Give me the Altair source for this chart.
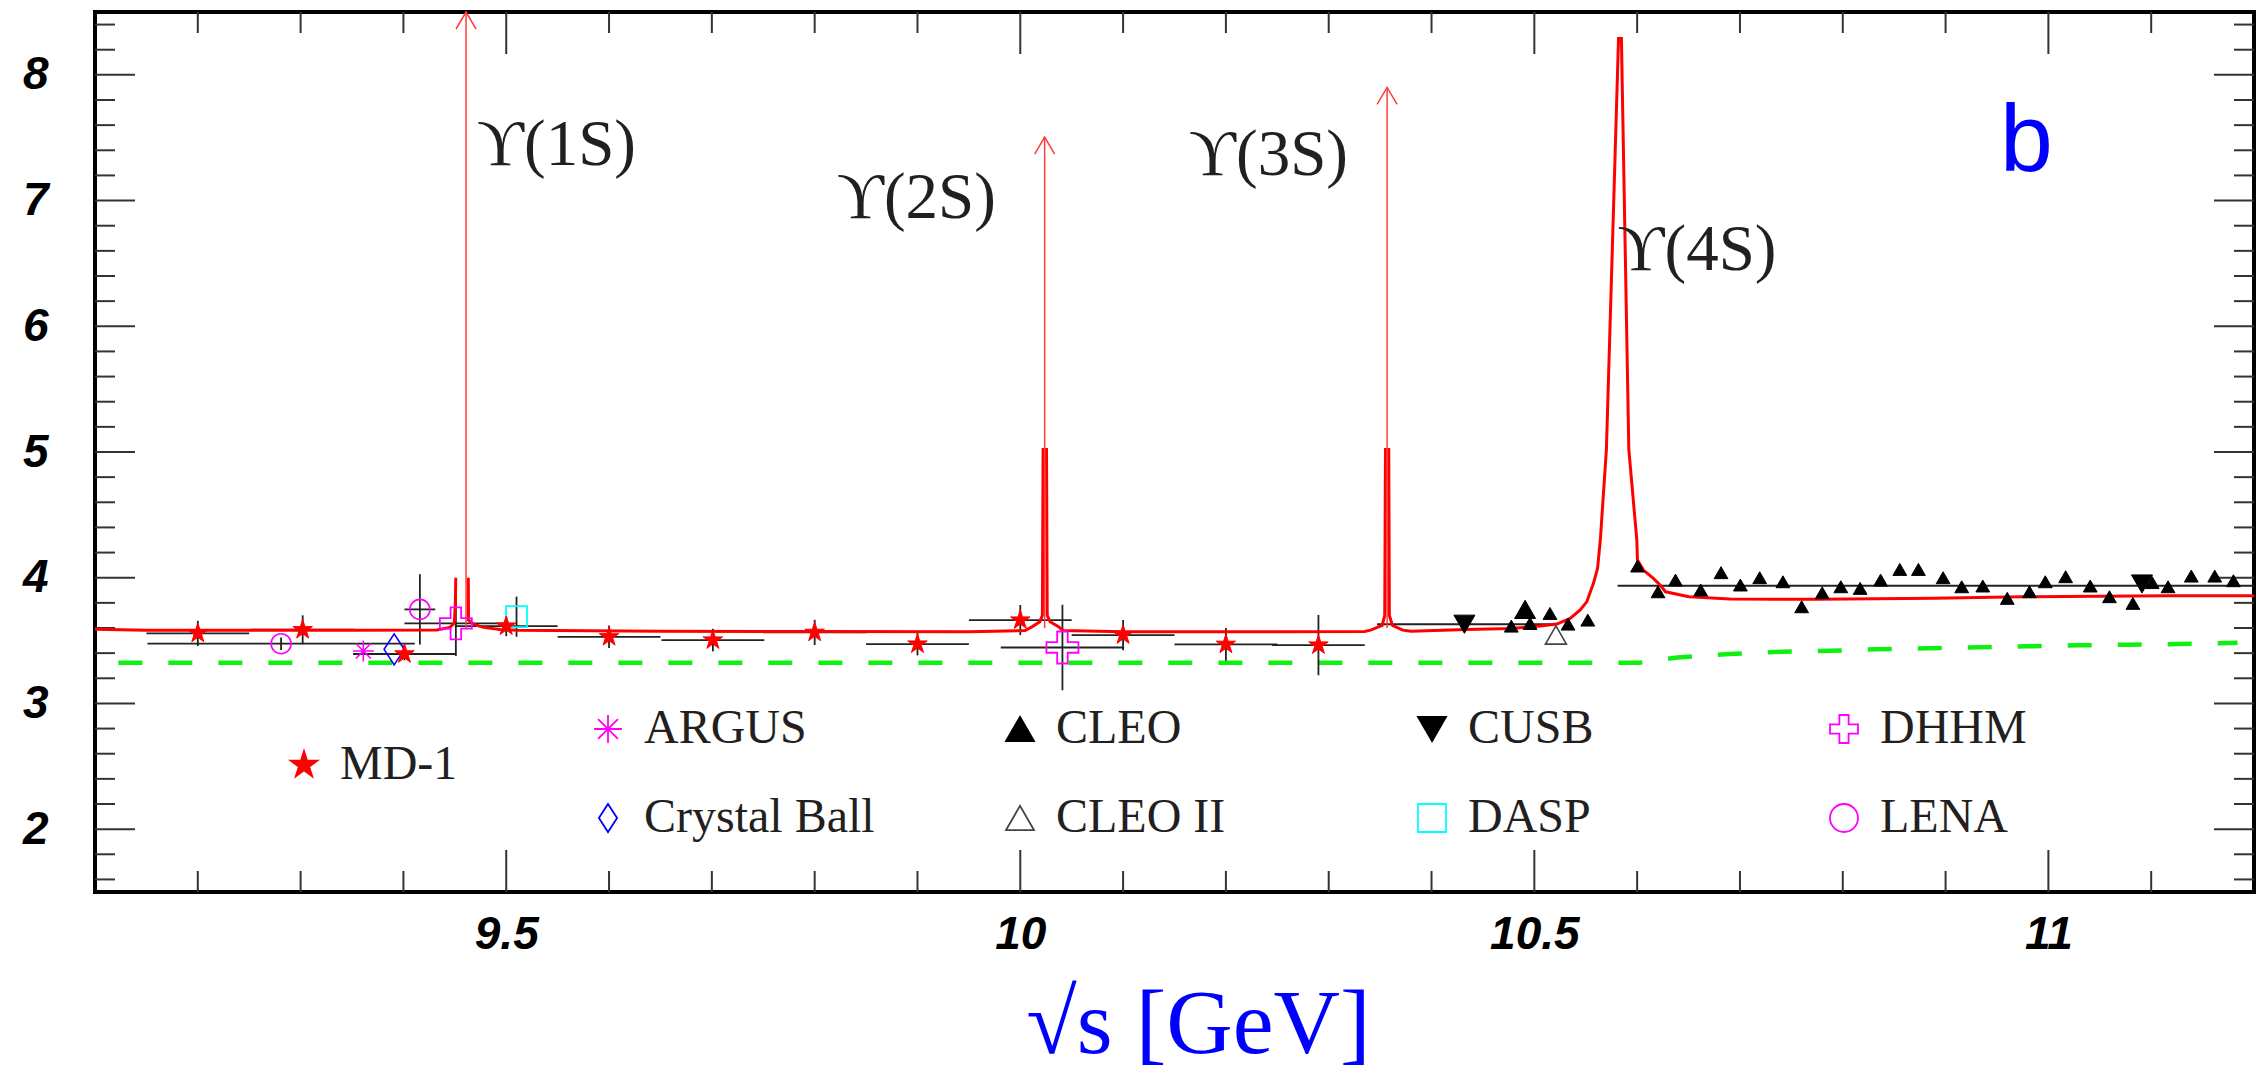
import altair as alt
import pandas as pd

# ------------------------------------------------------------------ data
md1_x = [9.200, 9.302, 9.401, 9.500, 9.600, 9.701, 9.800, 9.900, 10.000, 10.100, 10.200, 10.290]
md1_y = [3.557, 3.586, 3.393, 3.615, 3.530, 3.504, 3.565, 3.472, 3.663, 3.544, 3.470, 3.464]
md1_xerr = [0.050, 0.050, 0.050, 0.050, 0.050, 0.050, 0.050, 0.050, 0.050, 0.050, 0.050, 0.045]
md1_yerr = [0.100, 0.115, 0.050, 0.080, 0.090, 0.090, 0.100, 0.090, 0.120, 0.120, 0.130, 0.240]

argus_x, argus_y = [9.361], [3.417]
cb_x, cb_y = [9.391], [3.430]
lena_x, lena_y = [9.281, 9.416], [3.475, 3.748]
lena_xerr, lena_yerr = [0.130, 0.015], [0.050, 0.280]
dhhm_x, dhhm_y = [9.451, 10.041], [3.637, 3.445]
dhhm_xerr, dhhm_yerr = [0.050, 0.060], [0.260, 0.340]
dasp_x, dasp_y, dasp_yerr = [9.510], [3.690], [0.160]
cleo2_x, cleo2_y = [10.521], [3.544]
cusb_x, cusb_y, cusb_xerr = [10.432, 11.091], [3.630, 3.950], [0.085, 0.0]
cleo_big_x, cleo_big_y = [10.491], [3.748]
cleo_x = [10.4776, 10.4958, 10.5152, 10.5328, 10.5520, 10.6004, 10.6203, 10.6373, 10.6618,
          10.6816, 10.7004, 10.7192, 10.7418, 10.7600, 10.7800, 10.7981, 10.8169, 10.8368,
          10.8555, 10.8736, 10.8976, 10.9157, 10.9362, 10.9600, 10.9816, 10.9970, 11.0168,
          11.0407, 11.0594, 11.0822, 11.1010, 11.1164, 11.1390, 11.1618, 11.1800]
cleo_y = [3.615, 3.636, 3.716, 3.631, 3.663, 4.093, 3.888, 3.981, 3.902, 4.040, 3.942, 4.000,
          3.968, 3.769, 3.880, 3.928, 3.915, 3.981, 4.066, 4.066, 4.000, 3.928, 3.934, 3.836,
          3.888, 3.968, 4.008, 3.934, 3.849, 3.796, 3.961, 3.928, 4.013, 4.013, 3.976]
cleo_avg_x, cleo_avg_y = [10.581, 11.200], [3.936, 3.936]

# theory curve (red), two pieces
segA_x = [9.100, 9.150, 9.250, 9.350, 9.4324, 9.4453, 9.4495, 9.4505, 9.4509]
segA_y = [3.590, 3.583, 3.583, 3.583, 3.585, 3.605, 3.640, 3.800, 4.000]
segB_x = [9.4631, 9.4633, 9.4680, 9.4777, 9.4940, 9.5102, 9.650, 9.800, 9.950, 10.0047,
          10.0121, 10.0190, 10.0215, 10.0222, 10.0255, 10.0262, 10.0290, 10.0368, 10.0416,
          10.100, 10.250, 10.3350, 10.3407, 10.3520, 10.3545, 10.3552, 10.3584, 10.3590,
          10.3620, 10.3720, 10.3800, 10.4343, 10.4765, 10.5058, 10.5219, 10.5348, 10.5446,
          10.5511, 10.5575, 10.5615, 10.5642, 10.5701, 10.5819, 10.5847, 10.5919, 10.5997,
          10.6003, 10.6061, 10.6158, 10.6223, 10.6276, 10.6504, 10.6902, 10.7754, 10.8890,
          10.9742, 11.1164, 11.2000]
segB_y = [4.000, 3.663, 3.631, 3.605, 3.589, 3.583, 3.575, 3.572, 3.570, 3.580,
          3.613, 3.650, 3.700, 5.020, 5.020, 3.700, 3.650, 3.613, 3.580,
          3.571, 3.571, 3.572, 3.583, 3.620, 3.700, 5.020, 5.020, 3.700,
          3.620, 3.583, 3.575, 3.589, 3.597, 3.615, 3.631, 3.676, 3.743,
          3.810, 3.955, 4.075, 4.300, 5.020, 8.290, 8.290, 5.020, 4.300,
          4.140, 4.061, 3.995, 3.942, 3.888, 3.849, 3.830, 3.828, 3.836,
          3.849, 3.857, 3.857]

# continuum (green dashed)
green_x = [9.1227, 10.602, 10.639, 10.690, 10.741, 10.787, 10.832, 10.883, 10.932, 10.980,
           11.028, 11.077, 11.125, 11.184]
green_y = [3.323, 3.323, 3.366, 3.393, 3.411, 3.419, 3.430, 3.438, 3.446, 3.454,
           3.462, 3.467, 3.472, 3.482]

# narrow resonance arrows
arrow_x = [9.4609, 10.0237, 10.3568]
arrow_base = [3.600, 3.600, 3.600]
arrow_top = [8.500, 7.505, 7.900]

# annotations
ann_text = ["\u03d2(1S)", "\u03d2(2S)", "\u03d2(3S)", "\u03d2(4S)"]
ann_x = [9.4716, 9.8217, 10.1642, 10.581]
ann_y = [7.283, 6.861, 7.203, 6.447]
panel_text, panel_x, panel_y = ["b"], [10.953], [7.235]

# axis ticks
x_major = [9.5, 10.0, 10.5, 11.0]
x_minor = [9.2, 9.3, 9.4, 9.6, 9.7, 9.8, 9.9, 10.1, 10.2, 10.3, 10.4, 10.6, 10.7, 10.8,
           10.9, 11.1]
y_major = [2, 3, 4, 5, 6, 7, 8]
y_minor = [1.6, 1.8, 2.2, 2.4, 2.6, 2.8, 3.2, 3.4, 3.6, 3.8, 4.2, 4.4, 4.6, 4.8, 5.2, 5.4,
           5.6, 5.8, 6.2, 6.4, 6.6, 6.8, 7.2, 7.4, 7.6, 7.8, 8.2, 8.4]

# ------------------------------------------------------------------ tables
def pts(name, xs, ys, xe=None, ye=None):
    n = len(xs)
    return pd.DataFrame({"exp": [name] * n, "x": xs, "y": ys,
                         "xerr": xe if xe is not None else [0.0] * n,
                         "yerr": ye if ye is not None else [0.0] * n})

points = pd.concat([
    pts("MD-1", md1_x, md1_y, md1_xerr, md1_yerr),
    pts("ARGUS", argus_x, argus_y),
    pts("Crystal Ball", cb_x, cb_y),
    pts("LENA", lena_x, lena_y, lena_xerr, lena_yerr),
    pts("DHHM", dhhm_x, dhhm_y, dhhm_xerr, dhhm_yerr),
    pts("DASP", dasp_x, dasp_y, None, dasp_yerr),
    pts("CLEO II", cleo2_x, cleo2_y),
    pts("CUSB", cusb_x, cusb_y, cusb_xerr),
    pts("CLEO", cleo_x, cleo_y),
], ignore_index=True)
points["xlo"] = points.x - points.xerr
points["xhi"] = points.x + points.xerr
points["ylo"] = points.y - points.yerr
points["yhi"] = points.y + points.yerr
big = pts("CLEO", cleo_big_x, cleo_big_y)

curve = pd.concat([
    pd.DataFrame({"x": segA_x, "y": segA_y, "seg": "a"}),
    pd.DataFrame({"x": segB_x, "y": segB_y, "seg": "b"}),
], ignore_index=True)
green = pd.DataFrame({"x": green_x, "y": green_y})
avg = pd.DataFrame({"x": cleo_avg_x[:1], "x2": cleo_avg_x[1:], "y": cleo_avg_y[:1]})
arrows = pd.DataFrame({"x": arrow_x, "y0": arrow_base, "y1": arrow_top})
ann = pd.DataFrame({"t": ann_text, "x": ann_x, "y": ann_y})
panel = pd.DataFrame({"t": panel_text, "x": panel_x, "y": panel_y})

# ------------------------------------------------------------------ encodings
W, H = 2159, 880
XS = alt.Scale(domain=[9.1, 11.2], nice=False, zero=False)
YS = alt.Scale(domain=[1.5, 8.5], nice=False, zero=False)
LBL = dict(grid=False, domain=False, ticks=False, tickSize=0, labelFont="Liberation Sans",
           labelFontSize=46, labelFontWeight="bold", labelFontStyle="italic",
           labelColor="black", labelOverlap=False, labelFlush=False, format="~g")
XAX = alt.Axis(values=x_major, title="\u221as [GeV]", labelPadding=20,
               titleFont="Liberation Serif", titleFontSize=92, titleFontWeight="normal",
               titleColor="#0000ff", titlePadding=22, titleX=1103, **LBL)
YAX = alt.Axis(values=y_major, title=None, labelPadding=47, **LBL)


def X(f):
    return alt.X(f, type="quantitative", scale=XS, axis=XAX)


def Y(f):
    return alt.Y(f, type="quantitative", scale=YS, axis=YAX)


TICK = "#333333"
ticks = []
for vals, ln in ((x_major, 42), (x_minor, 21)):
    d = pd.DataFrame({"v": vals})
    ticks.append(alt.Chart(d).mark_rule(color=TICK, strokeWidth=2).encode(
        x=X("v"), y=alt.value(H), y2=alt.value(H - ln)))
    ticks.append(alt.Chart(d).mark_rule(color=TICK, strokeWidth=2).encode(
        x=X("v"), y=alt.value(0), y2=alt.value(ln)))
for vals, ln in ((y_major, 40), (y_minor, 20)):
    d = pd.DataFrame({"v": vals})
    ticks.append(alt.Chart(d).mark_rule(color=TICK, strokeWidth=2).encode(
        y=Y("v"), x=alt.value(0), x2=alt.value(ln)))
    ticks.append(alt.Chart(d).mark_rule(color=TICK, strokeWidth=2).encode(
        y=Y("v"), x=alt.value(W), x2=alt.value(W - ln)))

green_line = alt.Chart(green).mark_line(color="#10f010", strokeWidth=4.5,
                                         strokeDash=[24, 26], clip=True).encode(
    x=X("x"), y=Y("y"))

xerr_rules = alt.Chart(points).transform_filter("datum.xerr > 0").mark_rule(
    color="#222222", strokeWidth=1.8).encode(x=X("xlo"), x2="xhi", y=Y("y"))
yerr_rules = alt.Chart(points).transform_filter("datum.yerr > 0").mark_rule(
    color="#222222", strokeWidth=1.8).encode(x=X("x"), y=Y("ylo"), y2="yhi")
avg_rule = alt.Chart(avg).mark_rule(color="#222222", strokeWidth=2).encode(
    x=X("x"), x2="x2", y=Y("y"))

red_curve = alt.Chart(curve).mark_line(color="#ff0000", strokeWidth=3, clip=True).encode(
    x=X("x"), y=Y("y"), detail="seg:N", order="x:Q")

arrow_lines = alt.Chart(arrows).mark_rule(color="#ff3b3b", strokeWidth=1.5).encode(
    x=X("x"), y=Y("y0"), y2="y1")
arrow_heads = alt.Chart(arrows).mark_point(
    shape="M-1,0.85L0,-0.85L1,0.85", size=400, filled=False, stroke="#ff3b3b",
    strokeWidth=1.5, opacity=1, yOffset=8.5).encode(x=X("x"), y=Y("y1"))

# ---- markers & legends
STAR = ("M0,-1L0.2245,-0.309L0.951,-0.309L0.363,0.118L0.588,0.809L0,0.382L-0.588,0.809"
        "L-0.363,0.118L-0.951,-0.309L-0.2245,-0.309Z")
ASTER = "M-1,0L1,0M0,-1L0,1M-0.71,-0.71L0.71,0.71M-0.71,0.71L0.71,-0.71"
DIAM = "M0,-1L0.65,0L0,1L-0.65,0Z"
CROSS = ("M-0.33,-1L0.33,-1L0.33,-0.33L1,-0.33L1,0.33L0.33,0.33L0.33,1L-0.33,1"
         "L-0.33,0.33L-1,0.33L-1,-0.33L-0.33,-0.33Z")

# legend is laid out column by column
names = ["ARGUS", "Crystal Ball", "CLEO", "CLEO II", "CUSB", "DASP", "DHHM", "LENA"]
shapes = [ASTER, DIAM, "triangle-up", "triangle-up", "triangle-down", "square", CROSS, "circle"]
fills = ["transparent", "transparent", "black", "transparent", "black", "transparent",
         "transparent", "transparent"]
strokes = ["#ff00ff", "#0000ff", "black", "#444444", "black", "#00ffff", "#ff00ff", "#ff00ff"]

LEG = dict(title=None, padding=0, symbolStrokeWidth=1.8, symbolSize=784,
           labelFont="Liberation Serif", labelFontSize=48, labelColor="#231f20",
           labelLimit=600, labelOffset=12, orient="none")
leg_main = alt.Legend(legendX=489, legendY=693, columns=4, gridAlign="all",
                      columnPadding=121, rowPadding=41, **LEG)
leg_md = alt.Legend(legendX=185, legendY=729, **LEG)


def marker_layer(data, name, size, sw=1.8):
    src = data if name is None else points
    ch = alt.Chart(src)
    if name is not None:
        ch = ch.transform_filter(alt.datum.exp == name)
    return ch.mark_point(size=size, filled=True, opacity=1, strokeWidth=sw).encode(
        x=X("x"), y=Y("y"),
        shape=alt.Shape("exp:N", scale=alt.Scale(domain=names, range=shapes), legend=leg_main),
        fill=alt.Fill("exp:N", scale=alt.Scale(domain=names, range=fills), legend=leg_main),
        stroke=alt.Stroke("exp:N", scale=alt.Scale(domain=names, range=strokes), legend=leg_main),
    )


others = alt.layer(
    marker_layer(None, "CLEO", 190, 1),
    marker_layer(big, None, 441, 1),
    marker_layer(None, "CUSB", 441, 1),
    marker_layer(None, "CLEO II", 441, 1.6),
    marker_layer(None, "ARGUS", 441, 1.6),
    marker_layer(None, "Crystal Ball", 961, 1.6),
    marker_layer(None, "LENA", 400, 1.6),
    marker_layer(None, "DASP", 441, 1.8),
    marker_layer(None, "DHHM", 1024, 1.8),
)

md1 = alt.Chart(points).transform_filter(alt.datum.exp == "MD-1").mark_point(
    size=420, filled=True, opacity=1, strokeWidth=1).encode(
    x=X("x"), y=Y("y"),
    shape=alt.Shape("exp:N", scale=alt.Scale(domain=["MD-1"], range=[STAR]), legend=leg_md),
    fill=alt.Fill("exp:N", scale=alt.Scale(domain=["MD-1"], range=["#ff0000"]), legend=leg_md),
    stroke=alt.Stroke("exp:N", scale=alt.Scale(domain=["MD-1"], range=["#ff0000"]), legend=leg_md),
)

ann_text_layer = alt.Chart(ann).mark_text(
    align="left", baseline="alphabetic", font="Liberation Serif", fontSize=65,
    color="#231f20").encode(x=X("x"), y=Y("y"), text="t:N")
panel_layer = alt.Chart(panel).mark_text(
    align="left", baseline="alphabetic", font="Liberation Sans", fontSize=95,
    color="#0000ff").encode(x=X("x"), y=Y("y"), text="t:N")

chart = alt.layer(
    *ticks, green_line, xerr_rules, yerr_rules, avg_rule, red_curve, arrow_lines,
    arrow_heads, others, md1, ann_text_layer, panel_layer,
).resolve_scale(shape="independent", fill="independent", stroke="independent").properties(
    width=W, height=H,
    padding={"left": 87, "top": 4, "right": 4, "bottom": 186},
    autosize=alt.AutoSizeParams(type="none"),
    background="white",
).configure_view(stroke="black", strokeWidth=4)

chart.save("out.html", embed_options={"renderer": "svg", "actions": False})
